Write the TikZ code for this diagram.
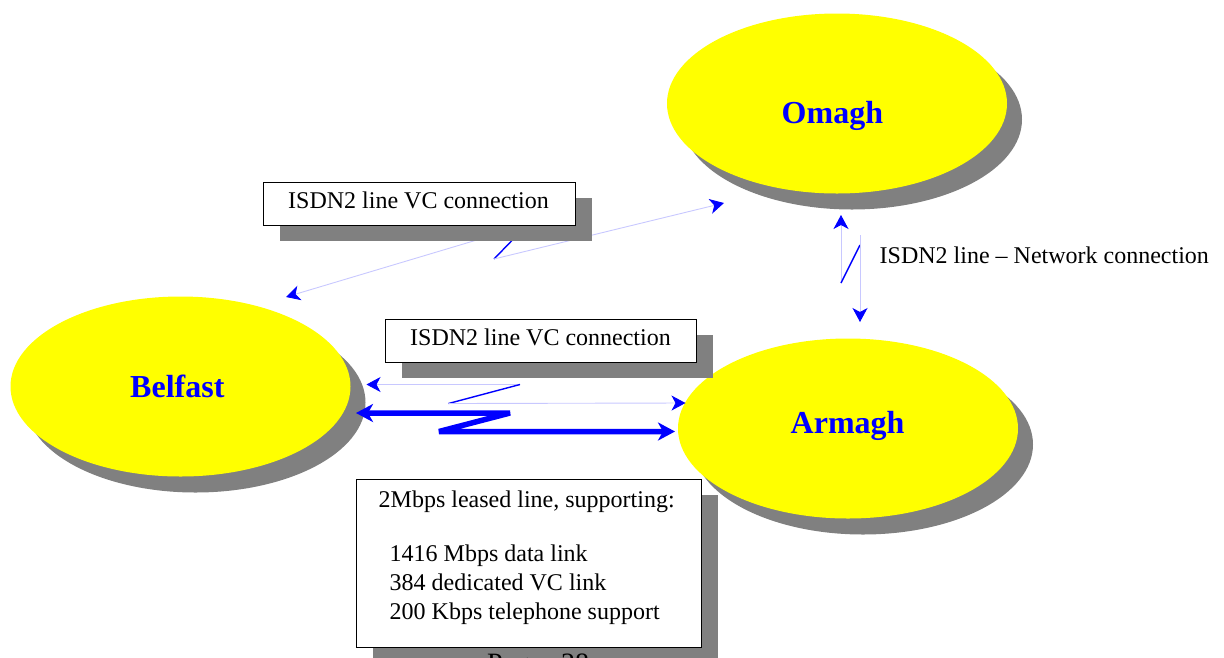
\documentclass[tikz,border=0pt]{standalone}
\usepackage{fontspec}
\setmainfont{Liberation Serif}
\usetikzlibrary{arrows.meta,shapes.geometric,shadows}
\definecolor{townyellow}{HTML}{FFFF00}
\definecolor{shadowgray}{HTML}{808080}
\definecolor{linkblue}{HTML}{0000FF}
\definecolor{lightwire}{HTML}{C8C8FF}
\tikzset{
  town/.style={shape=ellipse, fill=townyellow, draw=none, minimum width=340pt, minimum height=180pt, inner sep=0pt,
    drop shadow={shadow xshift=15pt, shadow yshift=-16pt, fill=shadowgray, opacity=1}},
  townlabel/.style={text=linkblue, font=\fontsize{32pt}{38pt}\selectfont\bfseries, anchor=base west, inner sep=0pt},
  labelbox/.style={draw=black, line width=0.8pt, fill=white, inner sep=0pt,
    drop shadow={shadow xshift=17pt, shadow yshift=-16pt, fill=shadowgray, opacity=1}},
  boxtext/.style={font=\fontsize{24pt}{28.5pt}\selectfont, anchor=base west, inner sep=0pt},
  wire/.style={draw=lightwire, line width=0.9pt},
  bolt/.style={draw=linkblue, line width=1.4pt},
  thintip/.tip={Stealth[length=14pt, width=15pt, inset=4pt, color=linkblue]},
  thicktip/.tip={Stealth[length=17pt, width=18pt, inset=5pt]},
  thickline/.style={draw=linkblue, line width=5.5pt, line join=bevel}
}
\begin{document}
\begin{tikzpicture}[x=1pt,y=-1pt]
\useasboundingbox (0,0) rectangle (1224,657);

% towns
\node[town] (omagh) at (837,103.5) {};
\node[town] (belfast) at (180.5,386.5) {};
\node[town] (armagh) at (848,428.5) {};
\node[townlabel] (omaghT) at (781.5,123) {Omagh};
\node[townlabel] (belfastT) at (130,397.3) {Belfast};
\node[townlabel] (armaghT) at (790.5,433.3) {Armagh};

% Belfast - Omagh ISDN link
\coordinate (bo1) at (286,297);
\coordinate (bo2) at (527,225);
\coordinate (bo3) at (494,259);
\coordinate (bo4) at (724,203);
\draw[wire, thintip-] (bo1) -- (bo2);
\draw[bolt] (bo2) -- (bo3);
\draw[wire, -thintip] (bo3) -- (bo4);

% Omagh - Armagh ISDN network link
\coordinate (oa1) at (841,215);
\coordinate (oa2w) at (841,280);
\coordinate (oa2) at (841,283);
\coordinate (oa3) at (860,245);
\coordinate (oa3w) at (860,235);
\coordinate (oa4) at (860,322);
\draw[wire, -thintip] (oa2w) -- (oa1);
\draw[bolt] (oa2) -- (oa3);
\draw[wire, -thintip] (oa3w) -- (oa4);

% Belfast - Armagh ISDN link
\coordinate (ba1) at (366.5,384.5);
\coordinate (ba2) at (520,384.5);
\coordinate (ba3) at (448.5,403.5);
\coordinate (ba4) at (685.5,403);
\draw[wire, thintip-] (ba1) -- (ba2);
\draw[bolt] (ba2) -- (ba3);
\draw[wire, -thintip] (ba3) -- (ba4);

% Belfast - Armagh leased line
\coordinate (bl1) at (356,413);
\coordinate (bl2) at (510,413);
\coordinate (bl3) at (439,431.5);
\coordinate (bl4) at (675,431.5);
\draw[thickline, thicktip-thicktip] (bl1) -- (bl2) -- (bl3) -- (bl4);

% label boxes
\node[labelbox, minimum width=312pt, minimum height=43pt] (box1) at (419,203.5) {};
\node[boxtext] (box1T) at (288,208.3) {ISDN2 line VC connection};
\node[labelbox, minimum width=311pt, minimum height=43pt] (box2) at (540.5,340.5) {};
\node[boxtext] (box2T) at (410,345.3) {ISDN2 line VC connection};
\node[labelbox, minimum width=345pt, minimum height=168pt] (box3) at (528.5,563) {};
\node[boxtext] (box3a) at (378.5,507.5) {2Mbps leased line, supporting:};
\node[boxtext] (box3b) at (389.5,561.7) {1416 Mbps data link};
\node[boxtext] (box3c) at (389.5,590.5) {384 dedicated VC link};
\node[boxtext] (box3d) at (389.5,619.2) {200 Kbps telephone support};

\node[boxtext] (netT) at (879.5,263.5) {ISDN2 line -- Network connection};

\node[anchor=base west, inner sep=0pt, font=\fontsize{28pt}{34pt}\selectfont] (page) at (487,672.5) {Page\hspace{19.6pt}28};
\end{tikzpicture}
\end{document}
